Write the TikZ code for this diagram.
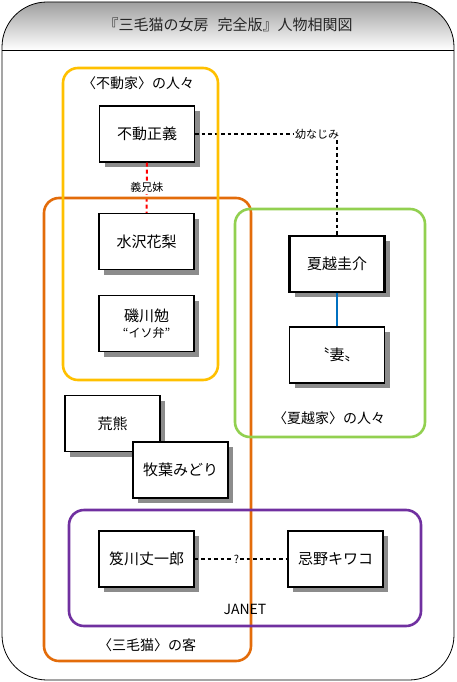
\documentclass[tikz,border=0pt]{standalone}
\usepackage{fontspec}
\setmainfont{Noto Sans CJK JP}
\usepackage{tikz}
\usetikzlibrary{shadows}

\definecolor{grpyellow}{HTML}{FFC000}
\definecolor{grporange}{HTML}{E36C0A}
\definecolor{grpgreen}{HTML}{92D050}
\definecolor{grppurple}{HTML}{7030A0}
\definecolor{lineblue}{HTML}{0070C0}

\tikzset{
  person/.style={draw, fill=white, line width=1.1pt, minimum width=95pt, minimum height=56pt, inner sep=0pt,
    font=\fontsize{15}{18}\selectfont,
    drop shadow={shadow xshift=5pt, shadow yshift=-5pt, fill=gray!90, opacity=1}},
  group/.style={rounded corners=15pt, line width=2.6pt},
  grplabel/.style={font=\fontsize{14}{16}\selectfont},
  rel/.style={font=\fontsize{11}{13}\selectfont, text=black, fill=white, inner sep=1pt},
  dots/.style={line width=2.5pt, dash pattern=on 3.5pt off 3pt}
}

\begin{document}
\begin{tikzpicture}[x=1pt,y=-1pt]
\useasboundingbox (0,0) rectangle (456,682);

\begin{scope}
\clip[rounded corners=45pt] (2,2) rectangle (454,680);
\shade[top color=gray!75, bottom color=white] (2,2) rectangle (454,50);
\end{scope}
\draw[line width=0.8pt, rounded corners=45pt] (2,2) rectangle (454,680);
\draw[line width=0.8pt] (2,50) -- (454,50);
\node[font=\fontsize{15}{18}\selectfont, text=black!85] (title) at (228,25) {『三毛猫の女房\hspace{9pt}完全版』人物相関図};

\node[person] (fudo) at (147,134) {不動正義};
\node[person] (mizusawa) at (146.5,241.5) {水沢花梨};
\node[person, align=center] (isokawa) at (146.5,323.5) {磯川勉\\[-2pt]{\fontsize{12}{14}\selectfont “イソ弁”}};
\node[person, line width=2.8pt] (natsukoshi) at (337,264) {夏越圭介};
\node[person] (tsuma) at (337,355) {〝妻〟};
\node[person] (arakuma) at (112.5,423.5) {荒熊};
\node[person] (makiba) at (180.5,470) {牧葉みどり};
\node[person] (oikawa) at (146.5,559) {笈川丈一郎};
\node[person] (imano) at (335.5,559) {忌野キワコ};

% relations
\node[rel] (osana) at (317,134) {幼なじみ};
\draw[dots] (fudo.east) -- (osana.west);
\draw[dots] (osana.south -| natsukoshi.north) -- (natsukoshi.north);
\draw[red, line width=2pt, dash pattern=on 4pt off 3pt] (fudo.south) -- (mizusawa.north)
  node[rel, pos=0.5] (gikei) {義兄妹};
\draw[lineblue, line width=2.6pt] (natsukoshi.south) -- (tsuma.north);
\draw[dots] (oikawa.east) -- (imano.west) node[rel, pos=0.45] (hatena) {?};

% groups
\draw[group, grporange] (44,198) rectangle (251,661);
\draw[group, grpyellow] (63,68) rectangle (218,380);
\draw[group, grpgreen] (235,209) rectangle (425,437);
\draw[group, grppurple] (69,510) rectangle (421,626);
\node[grplabel] (lblfudo) at (138,83) {〈不動家〉の人々};
\node[grplabel] (lblmike) at (147,645) {〈三毛猫〉の客};
\node[grplabel] (lblnatsu) at (329,418) {〈夏越家〉の人々};
\node[grplabel] (lbljanet) at (245,609) {JANET};
\end{tikzpicture}
\end{document}
